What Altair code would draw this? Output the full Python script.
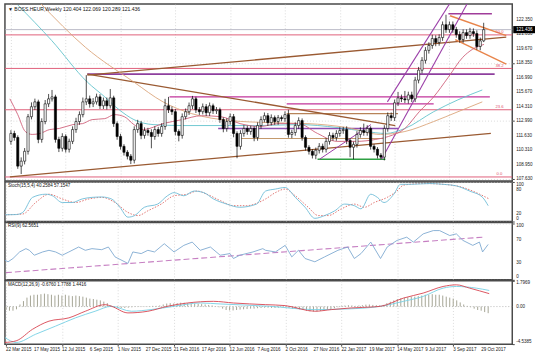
import altair as alt
import pandas as pd

FONT = "Liberation Sans"

# ---------------- data ----------------
TITLE = "\u25BC BOSS.HEUR,Weekly  120.404 122.069 120.289 121.436"
STOCH_TITLE = "Stoch(15,5,4) 40.2584 57.1547"
RSI_TITLE = "RSI(9) 62.5651"
MACD_TITLE = "MACD(12,26,9) -0.6760 1.7788 1.4416"

DATES = ["22 Mar 2015", "17 May 2015", "12 Jul 2015", "6 Sep 2015", "1 Nov 2015",
         "27 Dec 2015", "21 Feb 2016", "17 Apr 2016", "12 Jun 2016", "7 Aug 2016",
         "2 Oct 2016", "27 Nov 2016", "22 Jan 2017", "19 Mar 2017", "14 May 2017",
         "9 Jul 2017", "3 Sep 2017", "29 Oct 2017"]
DATE_STEP = 8  # weeks between date labels

FIRST_OPEN = 111.11
CLOSES = [
    111.84, 111.47, 108.82, 109.28, 110.19, 113.39, 114.31, 114.76, 111.29, 112.94,
    114.58, 115.04, 115.22, 111.29, 110.47, 111.56, 110.38, 111.11, 112.20, 112.94,
    113.58, 114.76, 115.04, 114.58, 114.76, 115.22, 114.40, 114.86, 114.40, 115.13,
    112.75, 111.56, 110.65, 110.10, 109.74, 109.37, 112.20, 112.75, 111.66, 112.11,
    111.93, 111.56, 112.20, 111.84, 112.48, 114.40, 114.03, 113.85, 112.02, 111.66,
    113.39, 113.85, 114.40, 115.04, 114.03, 113.85, 114.31, 113.76, 114.40, 113.94,
    114.03, 113.12, 112.30, 112.94, 113.39, 111.84, 110.65, 111.84, 112.30, 112.02,
    112.30, 111.47, 112.57, 113.12, 113.48, 112.84, 113.30, 112.94, 113.30, 113.21,
    113.58, 111.75, 111.93, 112.57, 113.03, 111.47, 110.56, 110.19, 109.83, 110.29,
    110.65, 110.38, 111.11, 111.66, 111.47, 111.84, 112.11, 112.20, 111.20, 110.56,
    110.83, 111.75, 112.11, 111.93, 112.30, 110.65, 110.38, 109.83, 109.65, 112.30,
    113.48, 113.30, 114.67, 115.13, 115.04, 114.95, 115.40, 115.04, 116.77, 117.69,
    118.60, 119.52, 119.97, 120.61, 120.25, 120.70, 121.89, 121.44, 121.89, 121.44,
    120.98, 120.52, 121.16, 120.89, 121.25, 121.07, 119.88, 120.40, 121.436]
UPPER_WICKS = [
    0.3, 0.25, 0.2, 0.35, 0.3, 0.25, 0.4, 0.3, 0.2, 0.3,
    0.35, 0.45, 0.64, 0.2, 0.25, 0.3, 0.2, 0.25, 0.3, 0.35,
    0.3, 0.4, 2.19, 0.3, 0.35, 0.3, 0.25, 0.3, 0.3, 0.82,
    0.2, 0.2, 0.25, 0.2, 0.2, 0.2, 0.3, 0.35, 0.25, 0.3,
    0.25, 0.3, 0.3, 0.25, 0.3, 0.64, 0.82, 0.3, 0.25, 0.2,
    0.3, 0.3, 0.3, 0.27, 0.2, 0.25, 0.3, 0.25, 0.3, 0.2,
    0.25, 0.2, 0.2, 0.3, 0.3, 0.25, 0.2, 0.3, 0.3, 0.25,
    0.25, 0.2, 0.3, 0.3, 0.3, 0.25, 0.3, 0.2, 0.25, 0.2,
    0.3, 0.45, 0.25, 0.3, 0.3, 0.2, 0.2, 0.2, 0.2, 0.25,
    0.3, 0.25, 0.3, 0.3, 0.25, 0.3, 0.3, 0.25, 0.3, 0.2,
    0.25, 0.3, 0.3, 0.64, 0.3, 0.2, 0.2, 0.2, 0.2, 0.3,
    0.3, 0.3, 0.3, 0.55, 0.3, 0.73, 0.3, 0.3, 0.3, 0.3,
    0.3, 0.3, 0.3, 0.35, 0.3, 0.3, 0.3, 0.92, 0.3, 0.3,
    0.25, 0.3, 0.3, 0.3, 0.35, 0.3, 0.3, 0.3, 0.633]
LOWER_WICKS = [
    0.3, 0.3, 0.25, 0.73, 0.3, 0.3, 0.25, 0.3, 0.35, 0.3,
    0.25, 0.3, 0.25, 0.3, 0.35, 0.3, 0.3, 0.3, 0.25, 0.3,
    0.3, 0.25, 0.3, 0.35, 0.3, 0.25, 0.3, 0.3, 0.35, 0.25,
    0.3, 0.3, 0.3, 0.3, 0.3, 0.36, 0.3, 0.3, 0.35, 0.3,
    0.3, 1.09, 0.3, 0.3, 0.3, 0.3, 0.3, 0.3, 0.35, 0.55,
    0.3, 0.25, 0.3, 0.3, 0.3, 0.3, 0.25, 0.3, 0.3, 0.3,
    0.3, 0.3, 0.35, 0.3, 0.3, 0.35, 1.1, 0.3, 0.3, 0.3,
    0.3, 0.35, 0.3, 0.3, 0.25, 0.3, 0.25, 0.3, 0.3, 0.25,
    0.3, 0.3, 0.35, 0.3, 0.3, 0.3, 0.3, 0.3, 0.3, 0.37,
    0.3, 0.3, 0.3, 0.3, 0.3, 0.3, 0.3, 0.3, 0.35, 0.91,
    1.1, 0.3, 0.3, 0.3, 0.3, 0.3, 0.3, 0.3, 0.19, 0.3,
    0.3, 0.3, 0.3, 0.3, 0.3, 0.3, 0.35, 0.3, 0.3, 0.3,
    0.3, 0.3, 0.3, 0.3, 0.35, 0.3, 0.3, 0.3, 0.3, 0.3,
    0.3, 0.3, 0.3, 0.3, 0.3, 0.3, 0.3, 0.35, 0.115]

PRICE_TICKS = [122.35, 121.03, 119.67, 118.35, 116.99, 115.67, 114.31,
               112.99, 111.63, 110.31, 108.95, 107.63]
LAST_PRICE = 121.436
FIB_LEVELS = [107.82, 114.03, 117.85, 120.95]
FIB_NAMES = ["0.0", "23.6", "38.2", "50.0"]

# moving averages (bar index, price) knots
MA_SLOW_X = [2.0, 11.9, 22.3, 27.4, 31.6, 35.9, 41.5, 50.0, 61.3, 72.6, 83.9, 95.2, 103.7, 109.3, 115.0, 123.4, 130.5, 137.6]
MA_SLOW_Y = [123.72, 120.43, 116.59, 115.22, 114.03, 113.12, 112.66, 112.57, 112.57, 112.57, 112.66, 112.39, 112.02, 111.84, 112.30, 113.85, 114.95, 115.86]
MA_MID_X = [8.5, 21.8, 35.9, 44.4, 52.8, 64.1, 75.4, 86.7, 98.0, 107.9, 115.0, 123.4, 130.5, 137.6]
MA_MID_Y = [123.90, 119.79, 116.59, 114.76, 113.67, 113.03, 112.84, 112.75, 112.39, 111.75, 112.02, 112.94, 113.85, 114.76]
MA_FAST_X = [-0.3, 2.0, 4.2, 6.2, 8.5, 11.3, 14.1, 18.1, 20.9, 23.7, 27.4, 30.2, 33.1, 35.9, 38.7, 44.4, 50.0, 55.6,
             61.3, 66.9, 72.6, 78.2, 83.9, 89.5, 95.2, 100.8, 106.5, 110.2, 115.0, 119.2, 123.4, 127.7, 131.9, 134.7, 138.1]
MA_FAST_Y = [115.04, 113.58, 112.02, 111.75, 111.84, 112.20, 112.30, 112.66, 112.75, 113.12, 113.21, 113.58, 113.39, 112.66,
             112.20, 112.75, 113.12, 113.48, 113.39, 112.75, 112.48, 112.75, 112.75, 111.84, 111.11, 111.11, 111.29, 111.56,
             112.30, 113.85, 115.22, 117.05, 118.88, 119.61, 120.07]

# horizontal drawn levels: start bar, end bar, price
HSEG_START = [22.3, 46.3, 80.5, 80.5, 60.5, 67.0, 89.5, 127.7]
HSEG_END = [141.2, 139.8, 123.4, 113.0, 113.0, 109.3, 109.3, 140.4]
HSEG_PRICE = [117.32, 115.22, 114.58, 113.67, 112.30, 111.38, 109.46, 122.90]

# trendlines: start bar, start price, end bar, end price
TL_X1 = [22.3, 22.3, -0.3, 128.2, 129.7, 108.2, 109.9, 90.1]
TL_P1 = [117.32, 117.23, 107.82, 122.72, 120.52, 109.46, 114.76, 109.46]
TL_X2 = [112.2, 144.6, 140.1, 144.6, 144.6, 133.3, 128.2, 105.1]
TL_P2 = [112.57, 120.75, 111.84, 120.89, 118.24, 123.90, 123.90, 112.66]

# Stochastic
STO_K_X = [-0.3, 2.9, 4.8, 7.6, 11.4, 13.3, 16.1, 18.9, 21.8, 24.6, 27.4, 30.2, 32.6, 34.9, 36.8, 39.6, 43.4, 46.2, 48.1,
           50.9, 53.8, 56.6, 59.4, 63.2, 66.9, 71.7, 74.3, 77.1, 79.9, 82.8, 85.6, 88.4, 91.2, 94.1, 96.9, 99.7, 101.6,
           104.4, 106.3, 108.2, 111.0, 112.9, 115.7, 121.4, 125.1, 128.9, 132.7, 136.4, 138.0]
STO_K = [17, 17.5, 23, 61, 69, 65, 48, 48, 57, 61, 62, 57, 36, 11, 15, 36, 44, 65, 73, 65, 77, 73, 57, 44, 36, 44, 77,
         82, 86, 61, 36, 8, 15, 27, 44, 40, 32, 69, 61, 48, 69, 94, 94, 96, 94, 90, 77, 61, 40]
STO_D_X = [-0.3, 4.8, 8.5, 12.3, 16.1, 19.9, 23.7, 27.4, 31.2, 34.9, 37.8, 40.6, 44.4, 48.1, 51.9, 54.7, 57.5, 61.3,
           65.1, 68.8, 74.3, 77.1, 79.9, 82.8, 86.5, 89.4, 92.2, 96.0, 99.7, 102.6, 105.4, 109.1, 111.9, 113.8, 119.4,
           125.1, 130.8, 134.6, 138.3]
STO_D = [17, 19, 48, 69, 57, 48, 57, 61, 48, 23, 15, 27, 44, 65, 69, 77, 69, 53, 40, 40, 57, 73, 82, 65, 36, 15, 15,
         32, 44, 36, 48, 61, 77, 92, 96, 94, 86, 73, 57]
STO_TICKS = [100, 80, 20, 0]

# RSI
RSI_X = [-0.3, 0.6, 2.0, 3.9, 5.7, 6.7, 8.1, 10.5, 12.3, 14.2, 16.1, 18.0, 20.8, 22.7, 24.6, 27.4, 29.3, 31.2, 34.9, 36.3,
         38.7, 40.6, 42.5, 45.3, 48.1, 50.9, 53.3, 55.6, 58.5, 61.3, 64.1, 65.1, 66.9, 70.7, 73.5, 74.3, 77.1, 79.9,
         81.8, 83.7, 85.6, 88.4, 91.2, 95.0, 97.8, 99.7, 101.6, 104.4, 107.2, 109.1, 111.9, 114.7, 116.6, 119.4, 122.3,
         124.1, 127.0, 128.9, 130.8, 133.6, 135.5, 136.4, 138.0]
RSI = [34.8, 31.9, 37.7, 49.3, 55.1, 52.2, 43.5, 49.3, 52.2, 49.3, 43.5, 49.3, 58.0, 52.2, 55.1, 53.3, 58.0, 40.6, 29.0,
       49.3, 46.4, 52.2, 49.3, 63.8, 49.3, 60.9, 66.7, 52.2, 58.0, 43.5, 46.4, 37.7, 43.5, 49.3, 55.1, 52.2, 49.3, 60.9,
       40.6, 52.2, 37.7, 31.9, 40.6, 52.2, 58.0, 37.7, 46.4, 66.7, 37.7, 58.0, 69.6, 75.4, 66.7, 81.2, 87.0, 87.0, 78.3,
       81.2, 69.6, 60.9, 66.7, 49.3, 62.6]
RSI_TREND_X = [0.0, 136.4]
RSI_TREND = [12.7, 75.4]
RSI_TICKS = [100, 70, 30, 0]

# MACD
MACD_HIST = [
    -0.25, -0.3, -0.3, -0.2, 0.15, 0.4, 0.65, 0.8, 0.86, 0.86,
    0.9, 0.94, 0.9, 0.86, 0.8, 0.86, 0.8, 0.86, 0.8, 0.76,
    0.8, 0.76, 0.72, 0.65, 0.58, 0.55, 0.5, 0.45, 0.36, 0.25,
    0.1, -0.05, -0.1, -0.1, -0.1, -0.08, -0.05, -0.03, -0.03, 0.02,
    0.02, 0.03, 0.05, 0.05, 0.08, 0.15, 0.22, 0.25, 0.22, 0.25,
    0.28, 0.28, 0.25, 0.22, 0.2, 0.2, 0.18, 0.15, 0.12, 0.08,
    0.03, -0.05, -0.15, -0.25, -0.28, -0.28, -0.25, -0.22, -0.2, -0.18,
    -0.15, -0.15, -0.12, -0.1, -0.08, -0.08, -0.1, -0.1, -0.08, -0.05,
    -0.05, -0.1, -0.15, -0.15, -0.2, -0.25, -0.3, -0.35, -0.36, -0.36,
    -0.32, -0.3, -0.25, -0.2, -0.12, -0.05, 0.05, 0.08, 0.1, 0.08,
    0.05, 0.08, 0.1, 0.14, 0.15, 0.12, 0.1, 0.1, 0.12, 0.25,
    0.35, 0.45, 0.55, 0.6, 0.65, 0.68, 0.72, 0.72, 0.76, 0.8,
    0.86, 0.86, 0.9, 0.86, 0.86, 0.8, 0.72, 0.65, 0.58, 0.45,
    0.3, 0.15, 0.05, -0.05, -0.15, -0.25, -0.3, -0.4, -0.48]
MACD_RED_X = [-0.3, 2.9, 7.6, 12.3, 18.0, 22.7, 28.4, 30.2, 34.9, 40.6, 46.2, 51.9, 59.4, 65.1, 74.3, 79.9, 88.4, 93.1,
              98.8, 105.4, 107.2, 113.8, 119.4, 125.1, 128.9, 132.7, 138.3]
MACD_RED = [-2.61, -2.49, -1.65, -1.06, -0.82, -0.34, 0.14, 0.02, -0.46, -0.34, 0.02, 0.26, 0.38, 0.26, 0.14, 0.07,
            -0.34, -0.22, -0.10, -0.02, 0.02, 0.62, 0.98, 1.46, 1.58, 1.34, 0.94]
MACD_CYAN_X = [-0.3, 2.9, 8.5, 14.2, 19.9, 25.5, 30.2, 35.9, 41.5, 48.1, 55.6, 61.3, 75.4, 88.4, 97.8, 107.2, 113.8,
               119.4, 125.1, 128.9, 134.6, 138.3]
MACD_CYAN = [-2.25, -2.61, -2.01, -1.42, -0.82, -0.34, 0.02, -0.34, -0.22, 0.02, 0.26, 0.19, 0.02, -0.22, -0.17, 0.02,
             0.38, 0.74, 1.34, 1.46, 1.34, 1.17]
MACD_MAX_LABEL, MACD_ZERO_LABEL, MACD_MIN_LABEL = "1.7969", "0.00", "-4.5385"

# ---------------- styles ----------------
HSEG_COLORS = ["#8e3f9e", "#c2359b", "#c2359b", "#b78358", "#8e4fb0", "#c49a6c", "#2ea043", "#a03c9a"]
HSEG_WIDTHS = [1.8, 1.4, 1.3, 1.1, 1.3, 1.1, 1.4, 1.4]
TL_COLORS = ["#9a5a32", "#9a5a32", "#9a5a32", "#e8844a", "#e8844a", "#9b3fa8", "#9b3fa8", "#9b3fa8"]
TL_WIDTHS = [1.3, 1.3, 1.3, 1.4, 1.4, 1.1, 1.1, 1.0]

W = 513
H_MAIN, H_STO, H_RSI, H_MACD = 179, 40, 58, 64
GRID = "#c2c2c2"
LBL = 4.6
XSCALE = alt.Scale(domain=[-0.3, 144.9], nice=False, zero=False)
XTICKS = list(range(0, DATE_STEP * len(DATES), DATE_STEP))


def xgrid(ticks=False):
    return alt.Axis(values=XTICKS, labels=False, ticks=ticks, tickSize=2, tickColor="#444", domain=False,
                    grid=True, gridColor=GRID, gridDash=[1, 2], gridWidth=0.6, title=None)


def yaxis(values, grid=True):
    return alt.Axis(orient="right", values=values, labels=False, tickSize=2, tickColor="#444", domain=False,
                    title=None, grid=grid, gridColor=GRID, gridDash=[1, 2], gridWidth=0.6)


def title_layer(text, y, size=4.6):
    return alt.Chart(pd.DataFrame({"t": [text]})).mark_text(
        align="left", baseline="middle", fontSize=size, font=FONT, color="#111"
    ).encode(x=alt.value(3), y=alt.value(y), text="t:N")


def right_labels(values, texts, scale, flush=False):
    """Value labels right of a panel; with flush the extreme ones are nudged inside the panel."""
    groups = {"mid": ([], []), "top": ([], []), "bot": ([], [])}
    for v, t in zip(values, texts):
        key = "mid"
        if flush and v == max(values):
            key = "top"
        elif flush and v == min(values):
            key = "bot"
        groups[key][0].append(v)
        groups[key][1].append(t)
    shift = {"mid": 0, "top": 2.6, "bot": -2.6}
    layers = []
    for key, (vs, ts) in groups.items():
        if not vs:
            continue
        layers.append(alt.Chart(pd.DataFrame({"v": vs, "t": ts})).mark_text(
            align="left", baseline="middle", fontSize=LBL, font=FONT, color="#222", dy=shift[key]
        ).encode(x=alt.value(W + 4), y=alt.Y("v:Q", scale=scale), text="t:N"))
    return layers


# ---------------- main price panel ----------------
opens = [FIRST_OPEN] + CLOSES[:-1]
candles = pd.DataFrame({
    "i": list(range(len(CLOSES))), "o": opens, "c": CLOSES,
    "h": [max(o, c) + u for o, c, u in zip(opens, CLOSES, UPPER_WICKS)],
    "l": [min(o, c) - d for o, c, d in zip(opens, CLOSES, LOWER_WICKS)],
})
candles["dir"] = ["up" if c >= o else "down" for o, c in zip(opens, CLOSES)]

YMAIN = alt.Scale(domain=[107.45, 123.81], nice=False, zero=False)

base_axis_layer = alt.Chart(pd.DataFrame({"i": [0.0], "p": [115.0]})).mark_point(opacity=0).encode(
    x=alt.X("i:Q", scale=XSCALE, axis=xgrid()), y=alt.Y("p:Q", scale=YMAIN, axis=yaxis(PRICE_TICKS)))

fib_df = pd.DataFrame({"p": FIB_LEVELS, "name": FIB_NAMES})
fib_rules = alt.Chart(fib_df).mark_rule(color="#e0607a", strokeWidth=1).encode(y=alt.Y("p:Q", scale=YMAIN))
fib_text = alt.Chart(fib_df.assign(i=142.6)).mark_text(
    color="#e0506a", fontSize=4.2, font=FONT, baseline="bottom", dy=-0.5
).encode(x=alt.X("i:Q", scale=XSCALE), y=alt.Y("p:Q", scale=YMAIN), text="name:N")
bid_rule = alt.Chart(pd.DataFrame({"p": [LAST_PRICE]})).mark_rule(color="#a8a8b8", strokeWidth=0.8).encode(
    y=alt.Y("p:Q", scale=YMAIN))

hseg_df = pd.DataFrame({"i": HSEG_START, "i2": HSEG_END, "p": HSEG_PRICE,
                        "col": HSEG_COLORS, "w": HSEG_WIDTHS})
hsegs = alt.Chart(hseg_df).mark_rule().encode(
    x=alt.X("i:Q", scale=XSCALE), x2="i2:Q", y=alt.Y("p:Q", scale=YMAIN),
    color=alt.Color("col:N", scale=None), strokeWidth=alt.StrokeWidth("w:Q", scale=None))

tl_rows = []
for k in range(len(TL_X1)):
    tl_rows.append({"id": k, "i": TL_X1[k], "p": TL_P1[k], "col": TL_COLORS[k], "w": TL_WIDTHS[k]})
    tl_rows.append({"id": k, "i": TL_X2[k], "p": TL_P2[k], "col": TL_COLORS[k], "w": TL_WIDTHS[k]})
tls = alt.Chart(pd.DataFrame(tl_rows)).mark_line(clip=True).encode(
    x=alt.X("i:Q", scale=XSCALE), y=alt.Y("p:Q", scale=YMAIN), detail="id:N",
    color=alt.Color("col:N", scale=None), strokeWidth=alt.StrokeWidth("w:Q", scale=None))


def ma_line(xs, ys, color):
    return alt.Chart(pd.DataFrame({"i": xs, "p": ys})).mark_line(
        clip=True, color=color, strokeWidth=0.9, interpolate="monotone"
    ).encode(x=alt.X("i:Q", scale=XSCALE), y=alt.Y("p:Q", scale=YMAIN))


ma_slow = ma_line(MA_SLOW_X, MA_SLOW_Y, "#62c3cc")
ma_mid = ma_line(MA_MID_X, MA_MID_Y, "#dba57a")
ma_fast = ma_line(MA_FAST_X, MA_FAST_Y, "#d0607a")

wicks = alt.Chart(candles).mark_rule(color="#000", strokeWidth=0.7).encode(
    x=alt.X("i:Q", scale=XSCALE), y=alt.Y("l:Q", scale=YMAIN), y2="h:Q")
bodies = alt.Chart(candles).mark_bar(size=2.2, stroke="#000", strokeWidth=0.6).encode(
    x=alt.X("i:Q", scale=XSCALE), y=alt.Y("o:Q", scale=YMAIN), y2="c:Q",
    fill=alt.Fill("dir:N", scale=alt.Scale(domain=["up", "down"], range=["#ffffff", "#000000"]), legend=None))

price_labels = right_labels(PRICE_TICKS, [f"{v:.3f}" for v in PRICE_TICKS], YMAIN)

box_df = pd.DataFrame({"hi": [LAST_PRICE + 0.33], "lo": [LAST_PRICE - 0.33],
                       "p": [LAST_PRICE], "t": [f"{LAST_PRICE:.3f}"]})
price_box = alt.Chart(box_df).mark_rect(color="#000").encode(
    x=alt.value(W + 1), x2=alt.value(W + 23), y=alt.Y("hi:Q", scale=YMAIN), y2="lo:Q")
price_txt = alt.Chart(box_df).mark_text(color="#fff", fontSize=LBL, font=FONT, align="left").encode(
    x=alt.value(W + 4), y=alt.Y("p:Q", scale=YMAIN), text="t:N")

main = alt.layer(
    base_axis_layer, fib_rules, bid_rule, hsegs, tls, ma_slow, ma_mid, ma_fast,
    wicks, bodies, fib_text, *price_labels, price_box, price_txt, title_layer(TITLE, 5.5, 5.1)
).properties(width=W, height=H_MAIN)

# ---------------- stochastic ----------------
YSTO = alt.Scale(domain=[0, 100], nice=False)
sto_k = alt.Chart(pd.DataFrame({"i": STO_K_X, "v": STO_K})).mark_line(
    color="#6fbcd8", strokeWidth=0.9, interpolate="monotone"
).encode(x=alt.X("i:Q", scale=XSCALE, axis=xgrid()),
         y=alt.Y("v:Q", scale=YSTO, axis=yaxis(STO_TICKS)))
sto_d = alt.Chart(pd.DataFrame({"i": STO_D_X, "v": STO_D})).mark_line(
    color="#d9534f", strokeWidth=0.8, strokeDash=[1.5, 1.5], interpolate="monotone"
).encode(x=alt.X("i:Q", scale=XSCALE), y=alt.Y("v:Q", scale=YSTO))
stoch = alt.layer(
    sto_d, sto_k, *right_labels(STO_TICKS, [str(v) for v in STO_TICKS], YSTO, flush=True),
    title_layer(STOCH_TITLE, 4)
).properties(width=W, height=H_STO)

# ---------------- RSI ----------------
YRSI = alt.Scale(domain=[0, 101.3], nice=False)
rsi_line = alt.Chart(pd.DataFrame({"i": RSI_X, "v": RSI})).mark_line(
    color="#7ea9d1", strokeWidth=0.9
).encode(x=alt.X("i:Q", scale=XSCALE, axis=xgrid()),
         y=alt.Y("v:Q", scale=YRSI, axis=yaxis(RSI_TICKS)))
rsi_trend = alt.Chart(pd.DataFrame({"i": RSI_TREND_X, "v": RSI_TREND})).mark_line(
    color="#c67fc2", strokeWidth=1.1, strokeDash=[6, 3]
).encode(x=alt.X("i:Q", scale=XSCALE), y=alt.Y("v:Q", scale=YRSI))
rsi = alt.layer(
    rsi_trend, rsi_line, *right_labels(RSI_TICKS, [str(v) for v in RSI_TICKS], YRSI, flush=True),
    title_layer(RSI_TITLE, 4)
).properties(width=W, height=H_RSI)

# ---------------- MACD ----------------
MACD_DOMAIN = [-2.73, 1.87]
YMACD = alt.Scale(domain=MACD_DOMAIN, nice=False, zero=False)
hist = alt.Chart(pd.DataFrame({"i": list(range(len(MACD_HIST))), "v": MACD_HIST})).mark_rule(
    color="#a5a595", strokeWidth=1
).encode(x=alt.X("i:Q", scale=XSCALE, axis=xgrid(ticks=True)),
         y=alt.Y("v:Q", scale=YMACD, axis=yaxis([MACD_DOMAIN[1], 0, MACD_DOMAIN[0]], grid=False)),
         y2=alt.datum(0))
zero_rule = alt.Chart(pd.DataFrame({"v": [0]})).mark_rule(
    color="#999", strokeDash=[1, 2], strokeWidth=0.7).encode(y=alt.Y("v:Q", scale=YMACD))
macd_red = alt.Chart(pd.DataFrame({"i": MACD_RED_X, "v": MACD_RED})).mark_line(
    color="#d8434f", strokeWidth=0.9, interpolate="monotone"
).encode(x=alt.X("i:Q", scale=XSCALE), y=alt.Y("v:Q", scale=YMACD))
macd_cyan = alt.Chart(pd.DataFrame({"i": MACD_CYAN_X, "v": MACD_CYAN})).mark_line(
    color="#74d0e4", strokeWidth=0.9, interpolate="monotone"
).encode(x=alt.X("i:Q", scale=XSCALE), y=alt.Y("v:Q", scale=YMACD))
macd_labels = right_labels([MACD_DOMAIN[1], 0, MACD_DOMAIN[0]],
                           [MACD_MAX_LABEL, MACD_ZERO_LABEL, MACD_MIN_LABEL], YMACD, flush=True)
date_labels = alt.Chart(pd.DataFrame({"i": XTICKS, "t": DATES})).mark_text(
    align="left", baseline="middle", fontSize=LBL, font=FONT, color="#222"
).encode(x=alt.X("i:Q", scale=XSCALE), y=alt.value(H_MACD + 6), text="t:N")
macd = alt.layer(zero_rule, hist, macd_cyan, macd_red, *macd_labels, date_labels,
                 title_layer(MACD_TITLE, 4)).properties(width=W, height=H_MACD)

chart = alt.vconcat(main, stoch, rsi, macd, spacing=1, bounds="flush").properties(
    padding={"left": 2, "top": 1, "right": 0, "bottom": 0}, background="white"
).configure_view(stroke="#4a4a4a", strokeWidth=1.5)

chart.save("out.html", embed_options={"renderer": "svg", "actions": False})
